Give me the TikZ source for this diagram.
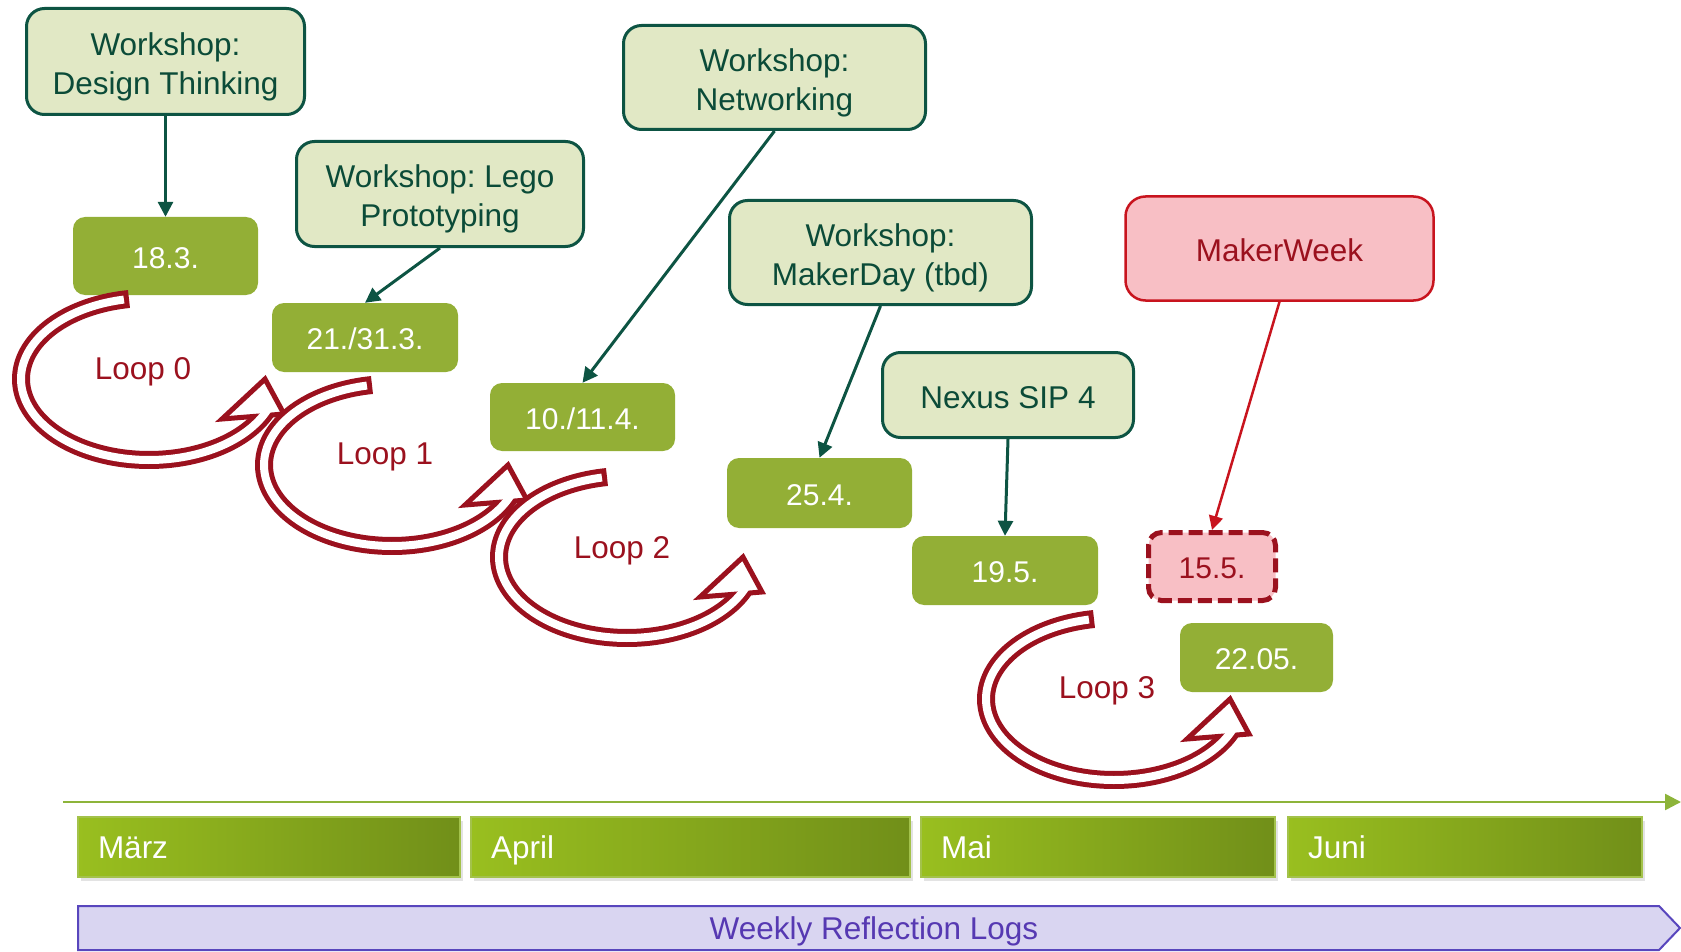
\documentclass[tikz,border=0pt]{standalone}
\usepackage{fontspec}
\setmainfont{Liberation Sans}
\usetikzlibrary{arrows.meta,shadows}

\definecolor{wsfill}{HTML}{E1E8C5}
\definecolor{wsline}{HTML}{0D5443}
\definecolor{wstext}{HTML}{0B4B38}
\definecolor{dategreen}{HTML}{93AF36}
\definecolor{loopred}{HTML}{9B111E}
\definecolor{mkfill}{HTML}{F8BFC5}
\definecolor{mkline}{HTML}{C8141E}
\definecolor{axisgreen}{HTML}{8DB43A}
\definecolor{monthL}{HTML}{99BF1F}
\definecolor{monthR}{HTML}{718F19}
\definecolor{monthedge}{HTML}{A3C24B}
\definecolor{logfill}{HTML}{D9D5F1}
\definecolor{logline}{HTML}{5846BD}
\definecolor{logtext}{HTML}{5639B2}

\frenchspacing
\newcommand\wsfnt{\fontsize{31.5}{39}\selectfont\frenchspacing}
\newcommand\dtfnt{\fontsize{30}{36}\selectfont\frenchspacing}
% invisible struts that fix the vertical placement of box text
\newcommand\topstrut{\rule[-7.4pt]{0pt}{41pt}}
\newcommand\capstrut{\rule[-7.4pt]{0pt}{30pt}}

\tikzset{
  wsbox/.style={draw=wsline, fill=wsfill, line width=3pt, rounded corners=18pt,
    text=wstext, align=center, inner sep=0pt, font=\wsfnt},
  datebox/.style={fill=dategreen, rounded corners=12pt, text=white,
    inner sep=0pt, font=\dtfnt, text height=32pt, text depth=7.5pt},
  tentative/.style={fill=mkfill, draw=loopred, line width=5pt, dash pattern=on 14pt off 6pt,
    rounded corners=13pt, text=loopred, inner sep=0pt, font=\dtfnt,
    text height=32pt, text depth=7.5pt},
  eventbox/.style={draw=mkline, fill=mkfill, line width=2.5pt, rounded corners=20pt,
    text=loopred, inner sep=0pt, font=\wsfnt, text height=33pt, text depth=7.4pt},
  link/.style={draw=wsline, line width=3pt, -{Triangle[length=15pt,width=15pt]}},
  redlink/.style={draw=mkline, line width=2.5pt, -{Triangle[length=14pt,width=14pt]}},
  looplabel/.style={text=loopred, font=\wsfnt, inner sep=0pt,
    text height=30pt, text depth=7.4pt},
  monthbar/.style={draw=monthedge, line width=1.5pt, left color=monthL, right color=monthR,
    text=white, font=\wsfnt, align=left, inner xsep=20pt, inner ysep=0pt,
    minimum height=60pt, text height=30pt, text depth=7.4pt,
    drop shadow={shadow xshift=3pt, shadow yshift=-4pt, opacity=0.22}},
  % hollow circular arrow: band along an ellipse, open arrowhead at its end
  loopband/.pic={
    \draw[loopred, line width=18pt] plot[domain=20:261, samples=110]
      ({128*cos(\x)},{81*sin(\x)});
    \filldraw[fill=white, draw=loopred, line width=5pt, line join=miter]
      (73,40) -- (116,0) -- (135,35) -- cycle;
    \draw[white, line width=8pt] plot[domain=20:258.7, samples=110]
      ({128*cos(\x)},{81*sin(\x)});
  }
}

\begin{document}
\begin{tikzpicture}[x=1pt,y=-1pt]
\useasboundingbox (0,0) rectangle (1681,952);

% workshops and events
\node[wsbox, minimum width=278, minimum height=106] (ws1) at (165.5,61.5)
  {\topstrut Workshop:\\\capstrut Design Thinking};
\node[wsbox, minimum width=287, minimum height=105] (ws2) at (440,194)
  {\topstrut Workshop: Lego\\\capstrut Prototyping};
\node[wsbox, minimum width=302, minimum height=104] (ws3) at (774.5,77.5)
  {\topstrut Workshop:\\\capstrut Networking};
\node[wsbox, minimum width=302, minimum height=104] (ws4) at (880.5,252.5)
  {\topstrut Workshop:\\\capstrut MakerDay (tbd)};
\node[wsbox, minimum width=251, minimum height=85] (ws5) at (1008,395)
  {\topstrut Nexus SIP 4};
\node[eventbox, minimum width=308, minimum height=104] (mw) at (1279.5,248.5) {MakerWeek};

% dates
\node[datebox, minimum width=185, minimum height=78] (d1) at (165.5,256) {18.3.};
\node[datebox, minimum width=186, minimum height=69] (d2) at (365,337.5) {21./31.3.};
\node[datebox, minimum width=185, minimum height=68] (d3) at (582.5,417) {10./11.4.};
\node[datebox, minimum width=185, minimum height=70] (d4) at (819.5,493) {25.4.};
\node[datebox, minimum width=186, minimum height=69] (d5) at (1005,570.5) {19.5.};
\node[tentative, minimum width=127, minimum height=68] (d6) at (1212,566.5) {15.5.};
\node[datebox, minimum width=153, minimum height=69] (d7) at (1256.5,657.5) {22.05.};

% links from events to dates
\draw[link] (ws1.south) -- (d1.north);
\draw[link] (ws2.south) -- (d2.north);
\draw[link] (ws3.south) -- (d3.north);
\draw[link] (ws4.south) -- (d4.north);
\draw[link] (ws5.south) -- (d5.north);
\draw[redlink] (mw.south) -- (d6.north);

% iteration loops
\pic at (149,379) {loopband};
\pic at (392,465) {loopband};
\pic at (627,557) {loopband};
\pic at (1114,699) {loopband};
\node[looplabel] (lab0) at (143,368) {Loop 0};
\node[looplabel] (lab1) at (385,453) {Loop 1};
\node[looplabel] (lab2) at (622,547) {Loop 2};
\node[looplabel] (lab3) at (1107,687) {Loop 3};

% time axis
\coordinate (t0) at (63,802);
\coordinate (t1) at (1681,802);
\draw[axisgreen, line width=2.5pt, -{Triangle[length=16pt,width=16pt]}] (t0) -- (t1);

% months
\node[monthbar, text width=342] (m1) at (269,847) {März};
\node[monthbar, text width=399] (m2) at (690.5,847) {April};
\node[monthbar, text width=314] (m3) at (1098,847) {Mai};
\node[monthbar, text width=314] (m4) at (1465,847) {Juni};

% reflection logs band
\draw[fill=logfill, draw=logline, line width=2pt]
  (78,906) -- (1659,906) -- (1680,928) -- (1659,950) -- (78,950) -- cycle;
\node[text=logtext, font=\wsfnt, inner sep=0pt, text height=30pt, text depth=7.4pt]
  (logs) at (874,928) {Weekly Reflection Logs};
\end{tikzpicture}
\end{document}
